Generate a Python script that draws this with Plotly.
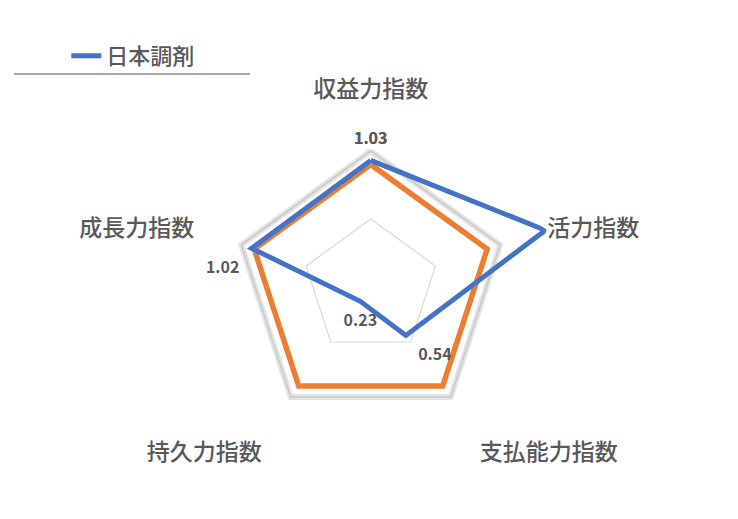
import plotly.graph_objects as go

# 指標カテゴリ(時計回り、上から)
categories = ['収益力指数', '活力指数', '支払能力指数', '持久力指数', '成長力指数']

# 日本調剤の各指数
nihon_values = [1.03, 1.45, 0.54, 0.23, 1.02]
nihon_labels = ['1.03', '', '0.54', '0.23', '1.02']
label_pos = ['top center', 'middle right', 'bottom right', 'bottom center', 'bottom left']

# 基準(業界平均 = 1.0)
base_values = [1.0, 1.0, 1.0, 1.0, 1.0]

# 目盛り線
grid_levels = [0.6, 1.1]

FONT = 'Noto Sans CJK JP'
GRAY = '#595959'


def close(v):
    return list(v) + [v[0]]


theta = close(categories)

fig = go.Figure()

# 目盛り線(五角形)
fig.add_trace(go.Scatterpolar(r=[grid_levels[1]] * 6, theta=theta, mode='lines',
                              line=dict(color='#e4e4e4', width=6),
                              showlegend=False, hoverinfo='skip'))
fig.add_trace(go.Scatterpolar(r=[grid_levels[1]] * 6, theta=theta, mode='lines',
                              line=dict(color='#c8c8c8', width=1.5),
                              showlegend=False, hoverinfo='skip'))
fig.add_trace(go.Scatterpolar(r=[grid_levels[0]] * 6, theta=theta, mode='lines',
                              line=dict(color='#d9d9d9', width=1.2),
                              showlegend=False, hoverinfo='skip'))

# 基準
fig.add_trace(go.Scatterpolar(r=close(base_values), theta=theta, mode='lines',
                              line=dict(color='#ED7D31', width=5.5),
                              name='基準', showlegend=False))

# 日本調剤
fig.add_trace(go.Scatterpolar(r=close(nihon_values), theta=theta, mode='lines+markers+text',
                              text=close(nihon_labels), textposition=close(label_pos),
                              textfont=dict(family=FONT, size=16, color=GRAY, weight='bold'),
                              marker=dict(size=18, color='rgba(0,0,0,0)'),
                              line=dict(color='#4472C4', width=5),
                              cliponaxis=False,
                              name='日本調剤'))

fig.update_layout(
    width=738, height=519,
    margin=dict(l=0, r=0, t=0, b=0),
    paper_bgcolor='white',
    plot_bgcolor='white',
    font=dict(family=FONT, color=GRAY),
    polar=dict(
        domain=dict(x=[0.09, 0.893], y=[0.106, 0.819]),
        bgcolor='white',
        gridshape='linear',
        radialaxis=dict(range=[0.1, 1.46], visible=False, showgrid=False),
        angularaxis=dict(rotation=90, direction='clockwise', showgrid=False,
                         showline=False, ticks='',
                         tickfont=dict(family=FONT, size=23, color=GRAY, weight=500)),
    ),
    legend=dict(x=0.079, y=0.948, xanchor='left', yanchor='top',
                font=dict(family=FONT, size=22, color=GRAY, weight=500),
                bgcolor='rgba(0,0,0,0)'),
    shapes=[dict(type='line', xref='paper', yref='paper',
                 x0=6 / 738, x1=242 / 738, y0=1 - 66 / 519, y1=1 - 66 / 519,
                 line=dict(color='#a6a6a6', width=2))],
)

fig.write_html('out.html')
